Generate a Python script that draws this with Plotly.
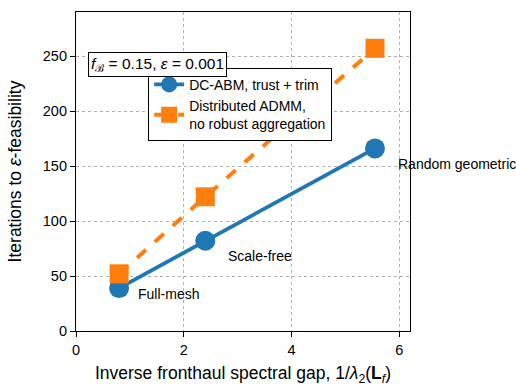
import plotly.graph_objects as go

topologies = ["Full-mesh", "Scale-free", "Random geometric"]
inv_gap = [0.8, 2.4, 5.55]
dc_abm = [39, 82, 166]
admm = [52, 122, 257]
series_names = ["DC-ABM, trust + trim", "Distributed ADMM,<br>no robust aggregation"]
x_ticks = [0, 2, 4, 6]
y_ticks = [0, 50, 100, 150, 200, 250]

blue = "#1f77b4"
orange = "#ff7f0e"
font = "Liberation Sans, Arial, sans-serif"

fig = go.Figure()
fig.add_trace(go.Scatter(x=inv_gap, y=dc_abm, mode="lines+markers", name=series_names[0],
                         line=dict(color=blue, width=3.8),
                         marker=dict(symbol="circle", size=20, color=blue)))
fig.add_trace(go.Scatter(x=inv_gap, y=admm, mode="lines+markers", name=series_names[1],
                         line=dict(color=orange, width=4, dash="dash"),
                         marker=dict(symbol="square", size=19, color=orange)))

offsets = [(17, 6), (21, 15), (21, 16)]
for name, xv, yv, (dx, dy) in zip(topologies, inv_gap, dc_abm, offsets):
    fig.add_annotation(x=xv, y=yv, text=name, showarrow=False, xanchor="left", yanchor="middle",
                       xshift=dx, yshift=-dy, font=dict(size=14, color="black", family=font))

fig.add_annotation(xref="paper", yref="paper", x=0.036, y=0.835, xanchor="left", yanchor="middle",
                   text="<i>f</i><sub>ℬ</sub> = 0.15, <i>ε</i> = 0.001", showarrow=False,
                   bordercolor="black", borderwidth=1, bgcolor="white", borderpad=2,
                   font=dict(size=15.5, color="black", family=font))

fig.update_layout(
    width=516, height=387,
    margin=dict(l=76, r=106, t=12, b=56),
    paper_bgcolor="white", plot_bgcolor="white",
    font=dict(family=font, size=14, color="black"),
    showlegend=True,
    legend=dict(x=0.216, y=0.825, xanchor="left", yanchor="top",
                bordercolor="black", borderwidth=1, bgcolor="white",
                font=dict(size=14, color="black"), tracegroupgap=0,
                itemwidth=30),
    xaxis=dict(range=[0, 6.2], tickvals=x_ticks, showgrid=True, gridcolor="#b0b0b0",
               griddash="dot", gridwidth=1, zeroline=False, showline=True, linecolor="black",
               linewidth=1.2, mirror=True, ticks="outside", ticklen=5, tickcolor="black",
               tickfont=dict(size=14.5), automargin=False,
               title=dict(text="Inverse fronthaul spectral gap, 1/<i>λ</i><sub>2</sub>(<b>L</b><sub><i>f</i></sub>)",
                          font=dict(size=17.5), standoff=10)),
    yaxis=dict(range=[0, 290], tickvals=y_ticks, showgrid=True, gridcolor="#b0b0b0",
               griddash="dot", gridwidth=1, zeroline=False, showline=True, linecolor="black",
               linewidth=1.2, mirror=True, ticks="outside", ticklen=5, tickcolor="black",
               tickfont=dict(size=14.5), automargin=False,
               title=dict(text="Iterations to <i>ε</i>-feasibility", font=dict(size=17.5), standoff=16)),
)

fig.write_html("out.html")
